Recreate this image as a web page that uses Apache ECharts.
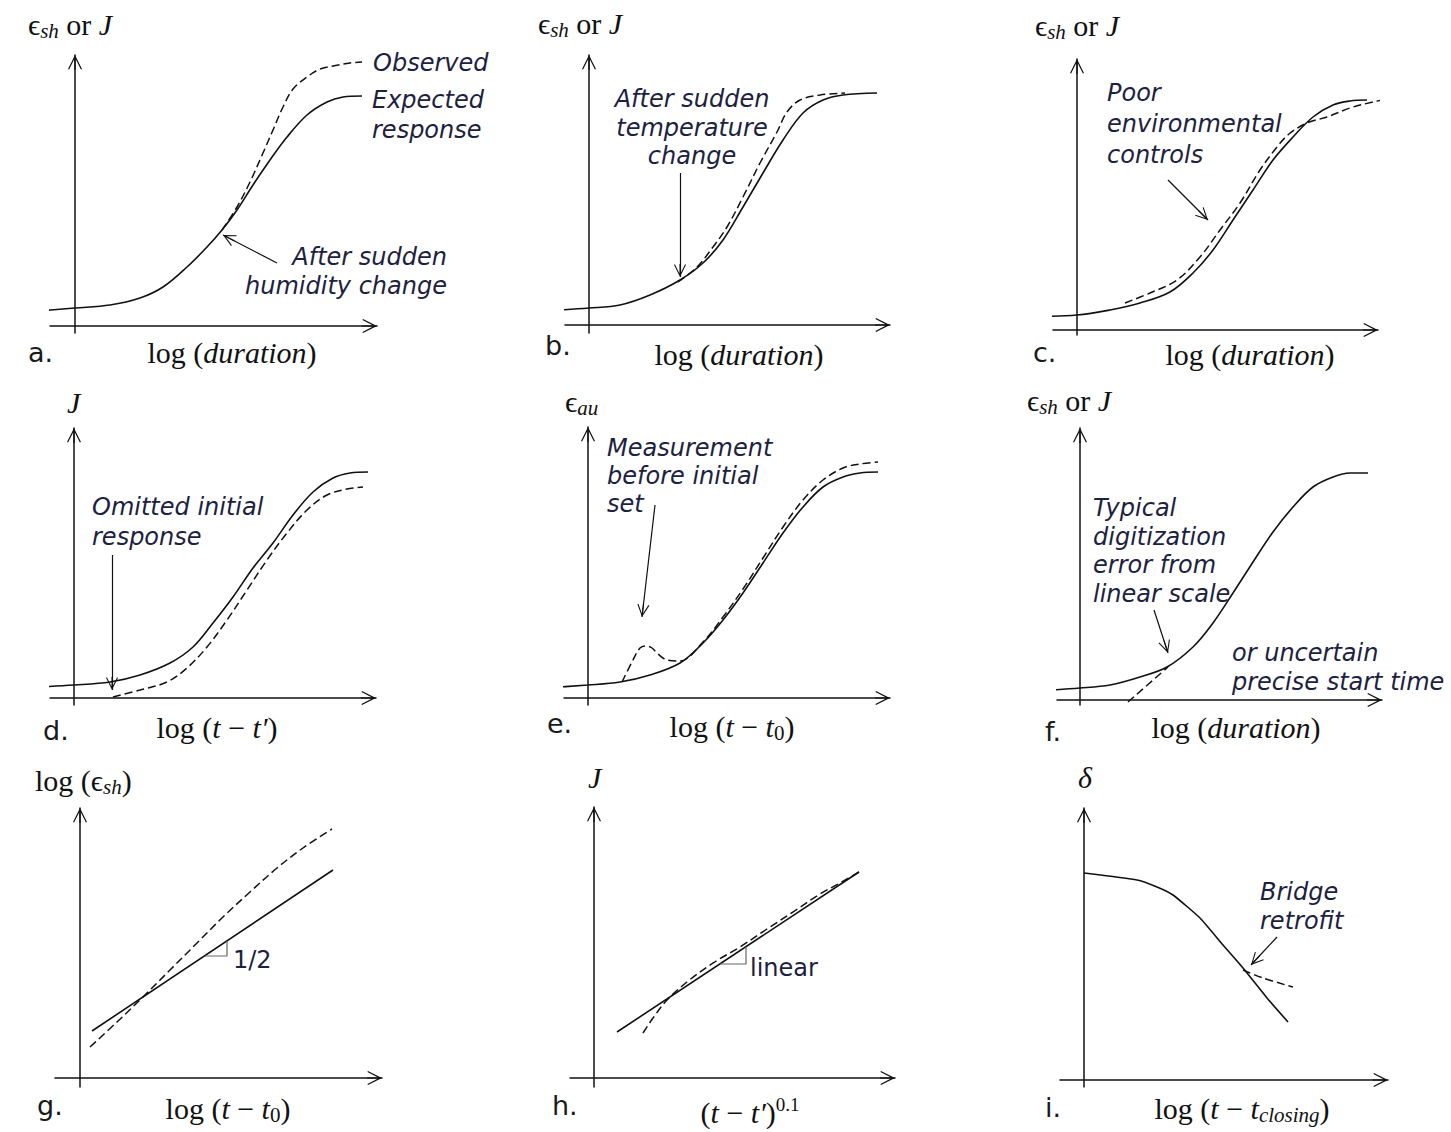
<!DOCTYPE html>
<html>
<head>
<meta charset="utf-8">
<title>Creep curve error sketches</title>
<script src="https://cdn.jsdelivr.net/npm/echarts@6/dist/echarts.min.js"></script>
<style>html,body{margin:0;background:#fff}</style>
</head>
<body>
<div id="main" style="width:1451px;height:1132px"></div>
<script>
// every panel uses its own units: offsets from where the two axes cross, y up
// axis extents: [xmin, xmax, ymin, ymax]
var aAxes = [-25, 302, -7, 271];
var bAxes = [-24, 301, -8, 270];
var cAxes = [-24, 301, -5, 271];
var dAxes = [-24, 302, -7, 270];
var eAxes = [-24, 302, -7, 271];
var fAxes = [-23, 302, -5, 272];
var gAxes = [-25, 302, -9, 270];
var hAxes = [-24, 301, -9, 271];
var iAxes = [-24, 304, -7, 272];

// a. humidity change
var aExpected = [[-62,13],[0,18],[35,21],[65,28],[88,39],[112,59],[132,79],[147,96],[162,116],[178,141],[195,166],[212,189],[232,211],[252,224],[268,229],[287,230]];
var aObserved = [[147,96],[162,119],[175,144],[188,173],[198,196],[208,219],[218,237],[232,249],[245,257],[258,260],[275,263],[287,264]];
var aArrows = [[202,63,148,91]];
// b. temperature change
var bExpected = [[-59,13],[0,17],[31,20],[61,30],[91,45],[114,62],[134,85],[154,118],[174,152],[194,185],[214,212],[234,225],[254,230],[288,232]];
var bObserved = [[89,43],[108,58],[124,78],[138,98],[154,128],[171,162],[188,193],[198,213],[211,225],[231,230],[256,232]];
var bArrows = [[91,152,91,48]];
// c. poor environmental controls
var cExpected = [[-57,13],[0,15],[33,20],[63,27],[93,38],[116,57],[136,80],[156,110],[176,140],[196,170],[216,193],[236,213],[256,225],[273,229],[290,230]];
var cObserved = [[48,27],[73,37],[100,50],[123,73],[143,100],[163,127],[183,160],[200,183],[212,196],[230,207],[250,213],[273,222],[296,228],[316,232]];
var cArrows = [[91,150,131,110]];
// d. omitted initial response
var dExpected = [[-54,10],[0,13],[36,16],[66,23],[96,35],[119,51],[139,75],[159,101],[179,130],[199,155],[219,183],[239,206],[259,220],[276,225],[294,226]];
var dObserved = [[39,1],[66,8],[93,16],[113,30],[133,51],[153,78],[173,108],[193,138],[213,165],[233,188],[253,203],[273,209],[289,211]];
var dArrows = [[38,143,38,8]];
// e. measurement before initial set
var eExpected = [[-58,9],[0,13],[32,16],[62,23],[92,35],[115,55],[135,78],[155,105],[175,135],[195,165],[215,191],[235,211],[255,221],[272,225],[290,226]];
var eObserved = [[34,16],[45,38],[52,50],[58,52],[64,50],[70,44],[79,38],[92,37],[115,56],[135,81],[155,109],[175,140],[195,171],[215,198],[235,218],[255,230],[272,234],[290,236]];
var eArrows = [[67,193,54,81]];
// f. digitization error / start time
var fExpected = [[-60,8],[0,12],[30,15],[60,23],[87,33],[113,53],[133,77],[153,107],[173,138],[193,168],[213,193],[233,213],[253,223],[270,227],[288,227]];
var fObserved = [[48,-2],[88,33]];
var fArrows = [[74,90,88,47]];
// g. log-log, slope 1/2
var gFit = [[12,47],[253,208]];
var gObserved = [[10,31],[37,56],[63,81],[90,108],[117,135],[143,161],[170,186],[197,210],[223,230],[252,249]];
var gSlope = [[125,122],[147,122],[147,137]];
// h. power law
var hFit = [[23,46],[265,206]];
var hObserved = [[49,45],[59,60],[73,78],[93,96],[119,115],[146,131],[173,149],[199,166],[226,184],[246,195],[265,206]];
var hSlope = [[126,114],[152,114],[152,131]];
// i. bridge deflection
var iExpected = [[0,207],[53,200],[73,193],[89,185],[116,162],[139,135],[159,112],[183,82],[204,58]];
var iObserved = [[159,110],[179,102],[209,93]];
var iArrows = [[193,143,167,115]];

var SERIF = '"Liberation Serif", "DejaVu Serif", serif';
var SANS = '"DejaVu Sans", "Open Sans", sans-serif';
var INK = '#111111';
var NOTE = '#1d2140';
var ARROW = 'path://M7,0L7.05,0L7,0.05Z M7,15L14,29L12.9,29.6L7.6,19L7.6,30L6.4,30L6.4,19L1.1,29.6L0,29Z';

// where each panel's axes cross on the page
var panels = [
  {origin: [75, 326], axes: aAxes, solid: aExpected, dashed: aObserved, arrows: aArrows},
  {origin: [589, 325], axes: bAxes, solid: bExpected, dashed: bObserved, arrows: bArrows},
  {origin: [1077, 330], axes: cAxes, solid: cExpected, dashed: cObserved, arrows: cArrows},
  {origin: [74, 698], axes: dAxes, solid: dExpected, dashed: dObserved, arrows: dArrows},
  {origin: [588, 698], axes: eAxes, solid: eExpected, dashed: eObserved, arrows: eArrows},
  {origin: [1080, 700], axes: fAxes, solid: fExpected, dashed: fObserved, arrows: fArrows},
  {origin: [80, 1078], axes: gAxes, solid: gFit, dashed: gObserved, arrows: [], slope: gSlope},
  {origin: [594, 1078], axes: hAxes, solid: hFit, dashed: hObserved, arrows: [], slope: hSlope},
  {origin: [1084, 1080], axes: iAxes, solid: iExpected, dashed: iObserved, arrows: iArrows, smooth: 0.15}
];

var grids = [], xAxes = [], yAxes = [], series = [];

function axis(k, min, max) {
  return {
    type: 'value', gridIndex: k, min: min, max: max,
    axisLine: {show: true, onZero: true, symbol: ['none', ARROW], symbolSize: [14, 30],
      lineStyle: {color: INK, width: 1.5}},
    axisTick: {show: false}, axisLabel: {show: false}, splitLine: {show: false}
  };
}

panels.forEach(function (p, k) {
  var r = p.axes;
  grids.push({left: p.origin[0] + r[0], top: p.origin[1] - r[3],
    width: r[1] - r[0], height: r[3] - r[2], containLabel: false, outerBoundsMode: 'none'});
  xAxes.push(axis(k, r[0], r[1]));
  yAxes.push(axis(k, r[2], r[3]));
  var solid = {
    type: 'line', xAxisIndex: k, yAxisIndex: k, data: p.solid,
    smooth: p.smooth != null ? p.smooth : 0.35, showSymbol: false, clip: false, silent: true,
    lineStyle: {color: INK, width: 1.6}
  };
  if (p.arrows.length) {
    solid.markLine = {
      silent: true, symbol: ['none', ARROW], symbolSize: [12, 26],
      label: {show: false}, emphasis: {disabled: true},
      lineStyle: {color: INK, width: 1.2, type: 'solid'},
      data: p.arrows.map(function (a) { return [{coord: [a[0], a[1]]}, {coord: [a[2], a[3]]}]; })
    };
  }
  series.push(solid);
  series.push({
    type: 'line', xAxisIndex: k, yAxisIndex: k, data: p.dashed,
    smooth: 0.35, showSymbol: false, clip: false, silent: true,
    lineStyle: {color: INK, width: 1.5, type: [8, 4]}
  });
  if (p.slope) {
    series.push({
      type: 'line', xAxisIndex: k, yAxisIndex: k, data: p.slope,
      showSymbol: false, clip: false, silent: true,
      lineStyle: {color: '#666', width: 1.2}
    });
  }
});

var mathRich = {
  m: {fontFamily: SERIF, fontSize: 30, fill: INK},
  i: {fontFamily: SERIF, fontSize: 30, fontStyle: 'italic', fill: INK},
  si: {fontFamily: SERIF, fontSize: 21, fontStyle: 'italic', fill: INK, padding: [13, 0, 0, 0]},
  sn: {fontFamily: SERIF, fontSize: 21, fill: INK, padding: [13, 0, 0, 0]},
  up: {fontFamily: SERIF, fontSize: 19, fill: INK, padding: [0, 0, 16, 0]}
};

function math(x, y, str, align) {
  return {type: 'text', silent: true, x: x, y: y,
    style: {text: str, rich: mathRich, align: align || 'left', textAlign: align || 'left',
      verticalAlign: 'middle', textVerticalAlign: 'middle'}};
}
function note(x, y, str, align, lh, italic) {
  return {type: 'text', silent: true, x: x, y: y - lh / 2,
    style: {text: str, fill: NOTE, fontFamily: SANS, fontSize: 24,
      fontStyle: italic === false ? 'normal' : 'italic', lineHeight: lh,
      align: align, textAlign: align, verticalAlign: 'top', textVerticalAlign: 'top'}};
}
function letter(x, y, str) {
  return {type: 'text', silent: true, x: x, y: y,
    style: {text: str, fill: '#1a1a1a', fontFamily: SANS, fontSize: 27,
      align: 'left', textAlign: 'left', verticalAlign: 'middle', textVerticalAlign: 'middle'}};
}

var ESH = '{m|ϵ}{si|sh}{m| or }{i|J}';
var LOGDUR = '{m|log (}{i|duration}{m|)}';

var texts = [
  math(28, 24, ESH), math(538, 23, ESH), math(1035, 25, ESH),
  math(67, 402, '{i|J}'), math(565, 401, '{m|ϵ}{si|au}'), math(1027, 400, ESH),
  math(35, 780, '{m|log (ϵ}{si|sh}{m|)}'), math(588, 777, '{i|J}'), math(1078, 777, '{i|δ}'),

  math(232, 352, LOGDUR, 'center'), math(739, 354, LOGDUR, 'center'), math(1250, 354, LOGDUR, 'center'),
  math(217, 727, '{m|log (}{i|t}{m| − }{i|t′}{m|)}', 'center'),
  math(732, 726, '{m|log (}{i|t}{m| − }{i|t}{sn|0}{m|)}', 'center'),
  math(1236, 727, LOGDUR, 'center'),
  math(228, 1108, '{m|log (}{i|t}{m| − }{i|t}{sn|0}{m|)}', 'center'),
  math(750, 1112, '{m|(}{i|t}{m| − }{i|t′}{m|)}{up|0.1}', 'center'),
  math(1242, 1108, '{m|log (}{i|t}{m| − }{i|t}{si|closing}{m|)}', 'center'),

  letter(28, 352, 'a.'), letter(545, 345, 'b.'), letter(1033, 352, 'c.'),
  letter(43, 730, 'd.'), letter(547, 723, 'e.'), letter(1045, 731, 'f.'),
  letter(37, 1105, 'g.'), letter(552, 1105, 'h.'), letter(1045, 1107, 'i.'),

  note(373, 63, 'Observed', 'left', 30),
  note(372, 100, 'Expected\nresponse', 'left', 30),
  note(447, 257, 'After sudden\nhumidity change', 'right', 29),
  note(692, 99, 'After sudden\ntemperature\nchange', 'center', 28.5),
  note(1107, 93, 'Poor\nenvironmental\ncontrols', 'left', 31),
  note(92, 507, 'Omitted initial\nresponse', 'left', 30),
  note(607, 448, 'Measurement\nbefore initial\nset', 'left', 28),
  note(1093, 508, 'Typical\ndigitization\nerror from\nlinear scale', 'left', 28.5),
  note(1232, 653, 'or uncertain\nprecise start time', 'left', 28.5),
  note(1260, 892, 'Bridge\nretrofit', 'left', 28.5),
  note(233, 960, '1/2', 'left', 28, false),
  note(750, 968, 'linear', 'left', 28, false)
];

var chart = echarts.init(document.getElementById('main'), null, {renderer: 'svg'});
chart.setOption({
  animation: false,
  backgroundColor: '#fff',
  grid: grids,
  xAxis: xAxes,
  yAxis: yAxes,
  series: series,
  graphic: {elements: texts}
});
</script>
</body>
</html>
